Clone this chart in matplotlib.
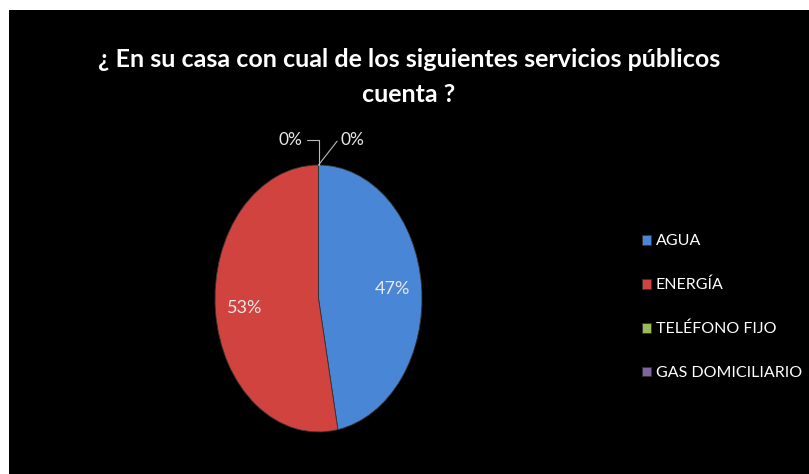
import matplotlib
matplotlib.use("Agg")
import matplotlib.pyplot as plt
from matplotlib.patches import Rectangle
import numpy as np

categories = ["AGUA", "ENERGÍA", "TELÉFONO FIJO", "GAS DOMICILIARIO"]
values = [47, 53, 0, 0]
colors = ["#4a86d6", "#d0433f", "#9bbb59", "#8064a2"]
title = "¿ En su casa con cual de los siguientes servicios públicos\ncuenta ?"

FONT = ["Lato", "DejaVu Sans"]
plt.rcParams["font.family"] = FONT

W, H = 809, 474
fig = plt.figure(figsize=(W / 100, H / 100), dpi=100)
fig.patch.set_facecolor("white")
fig.patches.append(Rectangle((9 / W, 0), 1 - 9 / W, 1 - 10 / H,
                             transform=fig.transFigure, facecolor="black",
                             edgecolor="none", zorder=-10))

fig.text(409 / W, 1 - 77 / H, title, ha="center", va="center", color="white",
         fontsize=18, fontweight="bold", linespacing=1.6)

ax = fig.add_axes([215 / W, 1 - 432 / H, 207 / W, 267 / H])
ax.set_zorder(5)
ax.set_facecolor("none")
wedges, texts, autotexts = ax.pie(
    values, colors=colors, startangle=90, counterclock=False,
    autopct=lambda p: f"{p:.0f}%" if p > 0.5 else "", pctdistance=0.72,
    wedgeprops=dict(edgecolor="#333333", linewidth=0.6),
    textprops=dict(color="#e8e8e8", fontsize=13))
ax.set_aspect("auto")
ax.set_xlim(-1, 1)
ax.set_ylim(-1, 1)
ax.axis("off")

# zero-value labels with leader lines
zero_idx = [i for i, v in enumerate(values) if v == 0]
offsets = [(-0.27, 1.19, "angle,angleA=0,angleB=90,rad=0"),
           (0.33, 1.19, "angle,angleA=180,angleB=52,rad=0")]
for k, i in enumerate(zero_idx):
    th = np.deg2rad(wedges[i].theta1)
    xy = (np.cos(th), np.sin(th))
    tx, ty, cs = offsets[k]
    ax.annotate(f"{values[i]}%", xy=xy, xytext=(tx, ty), ha="center",
                va="center", color="#e8e8e8", fontsize=12.5,
                annotation_clip=False,
                arrowprops=dict(arrowstyle="-", color="#bbbbbb", lw=0.8,
                                connectionstyle=cs, shrinkA=1, shrinkB=0))

leg = fig.legend(wedges, categories, loc="upper left",
                 bbox_to_anchor=(628 / W, 1 - 220 / H), frameon=False,
                 labelcolor="white", fontsize=11.5, handlelength=0.55,
                 handleheight=0.55, handletextpad=0.3, labelspacing=1.85)

fig.savefig("out.png", dpi=100, facecolor=fig.get_facecolor())
